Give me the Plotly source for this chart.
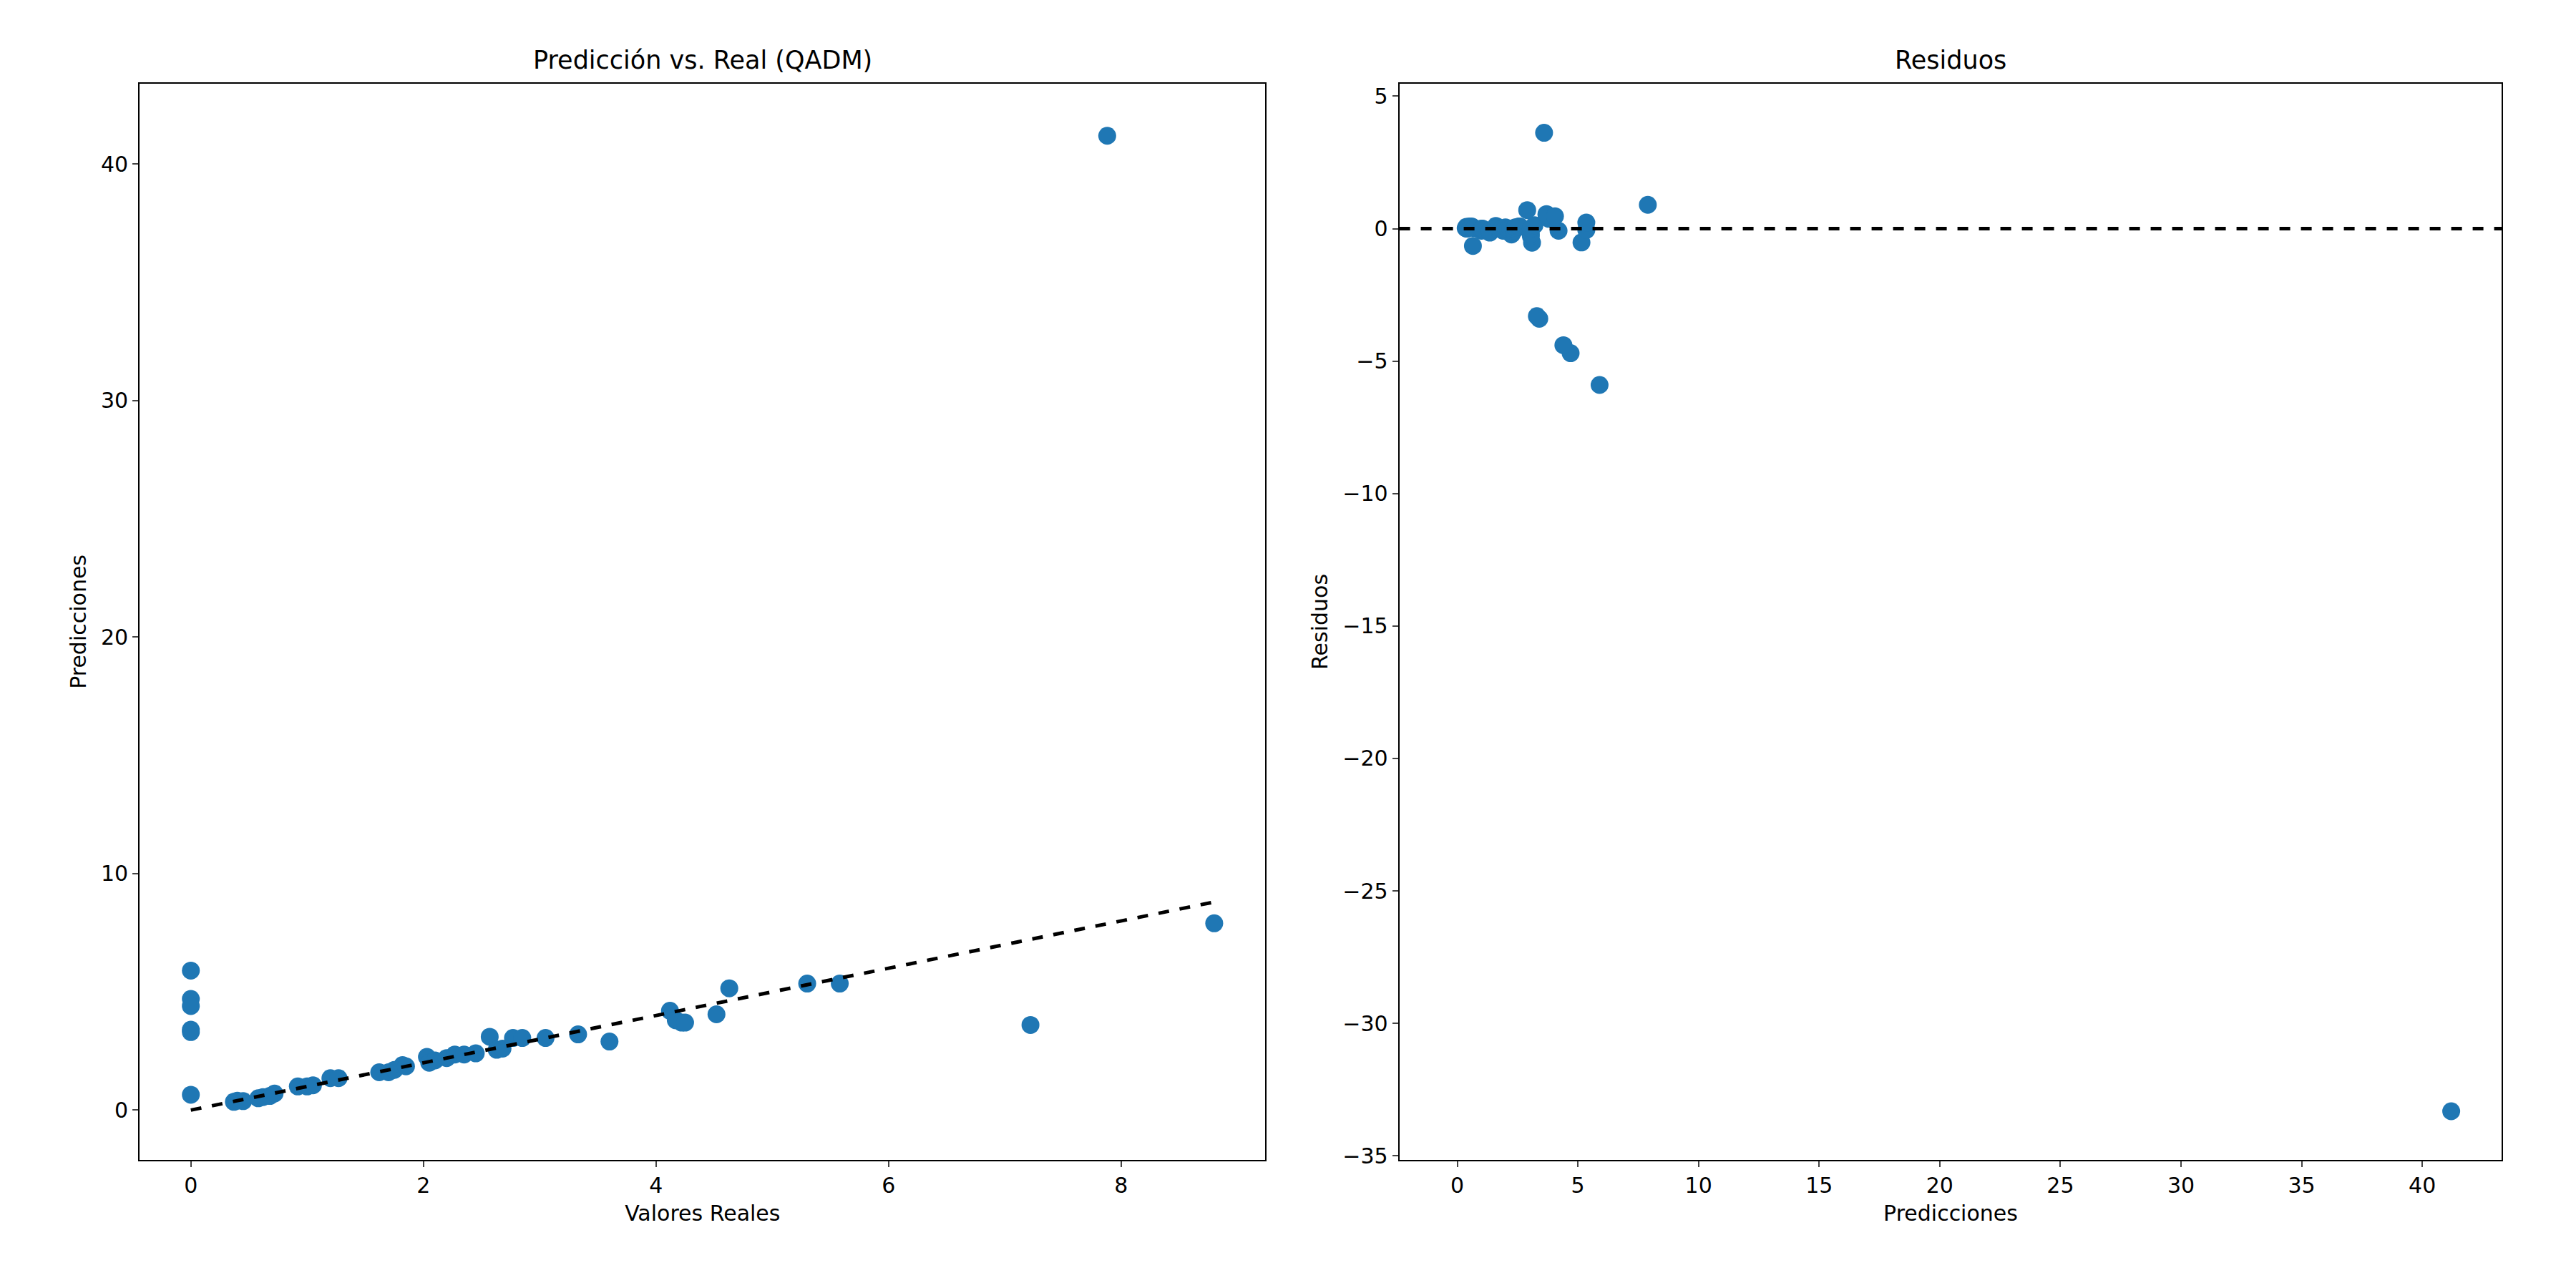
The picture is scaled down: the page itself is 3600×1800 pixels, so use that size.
import plotly.graph_objects as go

# valores reales vs predicciones (QADM)
reales = [0, 0, 0, 0, 0, 0,
          0.37, 0.40, 0.45, 0.58, 0.62, 0.68, 0.72,
          0.92, 1.00, 1.05, 1.20, 1.27,
          1.62, 1.70, 1.75, 1.82, 1.85, 2.03, 2.05, 2.10, 2.20, 2.27, 2.35, 2.45,
          2.57, 2.63, 2.68, 2.77, 2.85, 3.05, 3.33, 3.60,
          4.12, 4.17, 4.22, 4.25, 4.52, 4.63, 5.30, 5.58, 7.22, 7.88, 8.80]
predicciones = [5.9, 4.7, 4.4, 3.4, 3.3, 0.65,
                0.35, 0.40, 0.38, 0.50, 0.55, 0.60, 0.70,
                1.00, 1.00, 1.05, 1.35, 1.35,
                1.60, 1.60, 1.70, 1.90, 1.85, 2.25, 2.00, 2.10, 2.20, 2.35, 2.35, 2.40,
                3.10, 2.55, 2.60, 3.05, 3.05, 3.05, 3.20, 2.90,
                4.20, 3.80, 3.70, 3.70, 4.05, 5.15, 5.35, 5.35, 3.60, 41.2, 7.90]
residuos = [r - p for r, p in zip(reales, predicciones)]

azul = "#1f77b4"
fnt = dict(family="DejaVu Sans", size=30, color="black")

fig = go.Figure()
fig.add_trace(go.Scatter(x=reales, y=predicciones, mode="markers",
                         marker=dict(color=azul, size=25), xaxis="x", yaxis="y"))
lo, hi = min(reales), max(reales)
fig.add_trace(go.Scatter(x=[lo, hi], y=[lo, hi], mode="lines",
                         line=dict(color="black", width=5, dash="dash"), xaxis="x", yaxis="y"))
fig.add_trace(go.Scatter(x=predicciones, y=residuos, mode="markers",
                         marker=dict(color=azul, size=25), xaxis="x2", yaxis="y2"))

ax = dict(showgrid=False, zeroline=False, showline=True, mirror=True, linecolor="black",
          linewidth=2, ticks="outside", ticklen=8, tickwidth=2, tickfont=fnt)
fig.update_layout(
    width=3600, height=1800, showlegend=False, plot_bgcolor="white", paper_bgcolor="white",
    margin=dict(l=0, r=0, t=0, b=0), font=fnt,
    xaxis=dict(ax, domain=[0.052, 0.489], range=[-0.44, 9.24], dtick=2, anchor="y",
               title=dict(text="Valores Reales", font=fnt, standoff=12)),
    yaxis=dict(ax, domain=[0.098, 0.939], range=[-2.1, 43.4], dtick=10, anchor="x",
               title=dict(text="Predicciones", font=fnt, standoff=12)),
    xaxis2=dict(ax, domain=[0.541, 0.969], range=[-2.4, 43.3], dtick=5, anchor="y2",
                title=dict(text="Predicciones", font=fnt, standoff=12)),
    yaxis2=dict(ax, domain=[0.098, 0.939], range=[-35.15, 5.47], dtick=5, anchor="x2",
                title=dict(text="Residuos", font=fnt, standoff=12)),
    shapes=[dict(type="line", xref="x2 domain", yref="y2", x0=0, x1=1, y0=0, y1=0,
                 line=dict(color="black", width=5, dash="dash"))],
    annotations=[
        dict(text="Predicción vs. Real (QADM)", xref="paper", yref="paper", x=0.2705, y=0.945,
             xanchor="center", yanchor="bottom", showarrow=False, font=dict(fnt, size=35)),
        dict(text="Residuos", xref="paper", yref="paper", x=0.755, y=0.945,
             xanchor="center", yanchor="bottom", showarrow=False, font=dict(fnt, size=35)),
    ],
)
fig.write_html("out.html")
